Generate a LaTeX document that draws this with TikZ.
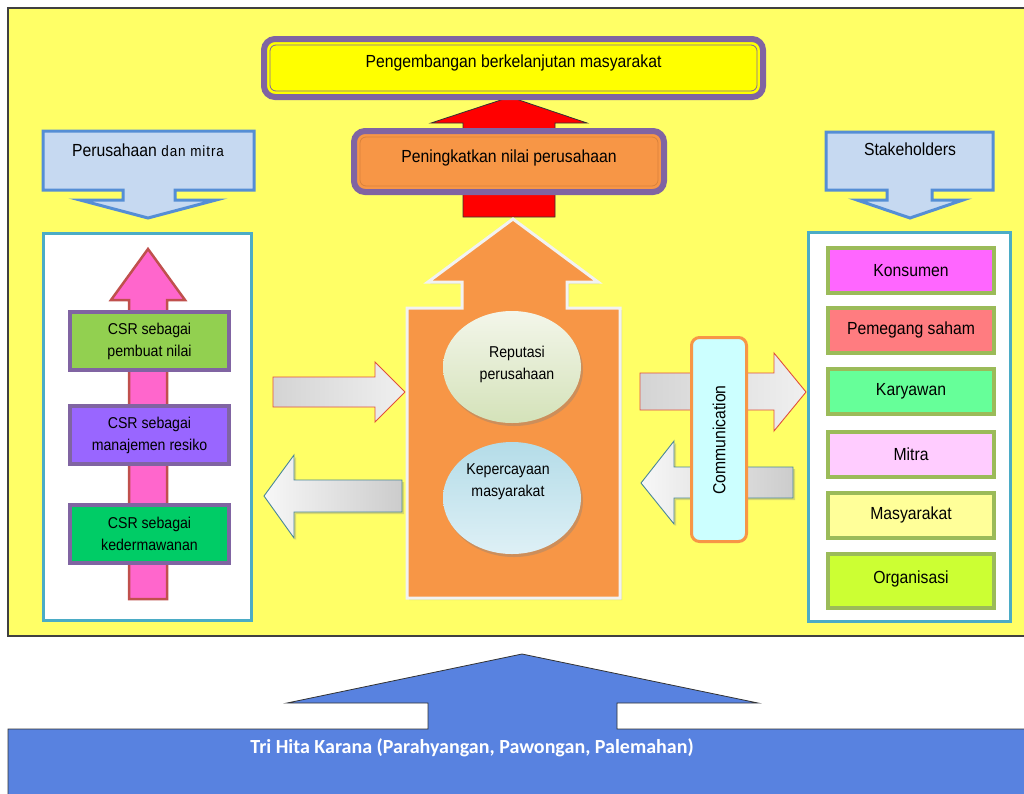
\documentclass[tikz,border=0pt]{standalone}
\usepackage{fontspec}
\setmainfont[FakeStretch=0.9]{Liberation Sans}
\newfontfamily\calibri{Carlito}
\newfontfamily\widesans[LetterSpace=6,FakeStretch=0.9]{Liberation Sans}
\usetikzlibrary{shadows,shapes.geometric}

\definecolor{panelyel}{HTML}{FFFF66}
\definecolor{goalyel}{HTML}{FFFF00}
\definecolor{frame}{HTML}{8064A2}
\definecolor{orangefill}{HTML}{F79646}
\definecolor{innerorange}{HTML}{D9823C}
\definecolor{headfill}{HTML}{C6D9F1}
\definecolor{headline}{HTML}{558ED5}
\definecolor{panelline}{HTML}{4BACC6}
\definecolor{pinkfill}{HTML}{FF66CC}
\definecolor{redline}{HTML}{C0504D}
\definecolor{csrA}{HTML}{92D050}
\definecolor{csrB}{HTML}{9966FF}
\definecolor{csrC}{HTML}{00CC66}
\definecolor{olive}{HTML}{9BBB59}
\definecolor{commfill}{HTML}{CCFFFF}
\definecolor{basefill}{HTML}{5882E0}
\definecolor{tealline}{HTML}{4A8797}
\definecolor{arrowline}{HTML}{E0503C}

\begin{document}
\begin{tikzpicture}[x=1pt,y=-1pt,line join=miter,
  txt/.style={font=\fontsize{17.5}{20}\selectfont,align=center,text=black},
  smalltxt/.style={font=\fontsize{15.7}{22}\selectfont,align=center,text=black},
  csrbox/.style={draw=frame,line width=4pt,minimum width=159pt,minimum height=58pt,smalltxt},
  stakebox/.style={draw=olive,line width=4pt,minimum width=166pt,minimum height=45pt,txt},
  panel/.style={draw=panelline,line width=3pt,fill=white},
  headarrow/.style={draw=headline,line width=3pt,fill=headfill},
  grayright/.style={draw=arrowline,line width=0.9pt,left color=black!17,right color=black!6},
  grayleft/.style={draw=tealline,line width=0.9pt,left color=black!3,right color=black!20,
    drop shadow={opacity=0.3,shadow xshift=2pt,shadow yshift=-2pt}},
  bubble/.style={ellipse,minimum width=138pt,minimum height=112pt,
    drop shadow={opacity=0.35,shadow xshift=2pt,shadow yshift=-3pt}}]

\clip (0,0) rectangle (1024,793);
\fill[white] (0,0) rectangle (1024,793);

% yellow field
\draw[fill=panelyel,draw=black!75,line width=1.2pt] (8,8) rectangle (1040,636);

% Tri Hita Karana foundation with its upward arrow
\draw[fill=basefill,draw=black!80,line width=0.8pt]
  (522,654) -- (758,703) -- (617,703) -- (617,729) -- (1040,729) -- (1040,800)
  -- (8,800) -- (8,729) -- (428,729) -- (428,703) -- (287,703) -- cycle;
\node[font=\calibri\bfseries\fontsize{20}{24}\selectfont,text=white] (thk) at (472,748)
  {Tri Hita Karana (Parahyangan, Pawongan, Palemahan)};

% red arrow between value and sustainability boxes
\draw[fill=red,draw=black!80,line width=0.8pt]
  (510,97) -- (587,123) -- (555,123) -- (555,217) -- (463,217) -- (463,123) -- (431,123) -- cycle;

% goal box
\node[draw=frame,line width=6pt,fill=goalyel,rounded corners=11pt,
  minimum width=499pt,minimum height=58pt] (goal) at (513.5,68) {};
\node[draw=frame,line width=0.8pt,rounded corners=6pt,
  minimum width=487pt,minimum height=46pt] (goalin) at (513.5,68) {};
\node[txt] (goaltxt) at (513.5,63) {Pengembangan berkelanjutan masyarakat};

% company value box
\node[draw=frame,line width=6pt,fill=orangefill,rounded corners=11pt,
  minimum width=310pt,minimum height=61pt] (value) at (509,161.5) {};
\node[draw=innerorange,line width=0.8pt,rounded corners=6pt,
  minimum width=298pt,minimum height=49pt] (valuein) at (509,161.5) {};
\node[txt] (valuetxt) at (509,158) {Peningkatkan nilai perusahaan};

% header arrows
\draw[headarrow] (43,131) -- (254,131) -- (254,190) -- (175,190) -- (175,200) -- (216,200)
  -- (148,218) -- (80,200) -- (123,200) -- (123,190) -- (43,190) -- cycle;
\node[txt] (hdleft) at (148,150) {Perusahaan {\widesans\fontsize{15}{17}\selectfont dan mitra}};
\draw[headarrow] (826,132) -- (993,132) -- (993,190) -- (932,190) -- (932,200) -- (963,200)
  -- (910,218) -- (857,200) -- (887,200) -- (887,190) -- (826,190) -- cycle;
\node[txt] (hdright) at (910,149) {Stakeholders};

% left panel: CSR ladder
\draw[panel] (43.5,233.5) rectangle (251.5,620.5);
\draw[fill=pinkfill,draw=redline,line width=2.5pt]
  (148,249) -- (185,300) -- (167,300) -- (167,599) -- (129,599) -- (129,300) -- (111,300) -- cycle;
\node[csrbox,fill=csrA] (csr1) at (149.5,341) {CSR sebagai\\pembuat nilai};
\node[csrbox,fill=csrB] (csr2) at (149.5,435) {CSR sebagai\\manajemen resiko};
\node[csrbox,fill=csrC] (csr3) at (149.5,534) {CSR sebagai\\kedermawanan};

% right panel: stakeholders
\draw[panel] (808.5,232.5) rectangle (1010.5,621.5);
\node[stakebox,fill={rgb,255:red,255;green,102;blue,255}] (s1) at (911,270.5) {Konsumen};
\node[stakebox,fill={rgb,255:red,255;green,124;blue,128}] (s2) at (911,330) {Pemegang saham};
\node[stakebox,fill={rgb,255:red,102;green,255;blue,153}] (s3) at (911,391.5) {Karyawan};
\node[stakebox,fill={rgb,255:red,255;green,204;blue,255}] (s4) at (911,454.5) {Mitra};
\node[stakebox,fill={rgb,255:red,255;green,255;blue,153}] (s5) at (911,515) {Masyarakat};
\node[stakebox,fill={rgb,255:red,204;green,255;blue,51},minimum height=54pt] (s6) at (911,580.5) {\raisebox{6pt}{Organisasi}};

% exchange arrows
\draw[grayright] (273,377) -- (375,377) -- (375,362) -- (405,392) -- (375,422) -- (375,407) -- (273,407) -- cycle;
\draw[grayleft] (264,496) -- (294,455) -- (294,480) -- (402,480) -- (402,512) -- (294,512) -- (294,538) -- cycle;
\draw[grayright] (640,373) -- (774,373) -- (774,353) -- (806,392) -- (774,431) -- (774,410) -- (640,410) -- cycle;
\draw[grayleft] (641,483) -- (674,441) -- (674,467) -- (793,467) -- (793,498) -- (674,498) -- (674,524) -- cycle;

% central arrow
\draw[fill=orangefill,draw=black!5,line width=3pt,
  drop shadow={opacity=0.25,shadow xshift=2pt,shadow yshift=-2pt}]
  (513,219) -- (598,282) -- (567,282) -- (567,308) -- (620,308) -- (620,598) -- (407,598)
  -- (407,308) -- (462,308) -- (462,282) -- (428,282) -- cycle;
\node[bubble,top color={rgb,255:red,243;green,246;blue,234},bottom color={rgb,255:red,212;green,226;blue,185}]
  (rep) at (512,367) {};
\node[smalltxt] (reptxt) at (517,364) {Reputasi\\perusahaan};
\node[bubble,top color={rgb,255:red,180;green,220;blue,232},bottom color={rgb,255:red,222;green,240;blue,246}]
  (trust) at (512,498) {};
\node[smalltxt] (trusttxt) at (508,482) {Kepercayaan\\masyarakat};

% communication bar
\node[draw=orangefill,line width=3pt,fill=commfill,rounded corners=8pt,
  minimum width=55pt,minimum height=204pt] (comm) at (719,439.5) {};
\node[txt,rotate=90] (commtxt) at (719,440) {Communication};

\end{tikzpicture}
\end{document}
